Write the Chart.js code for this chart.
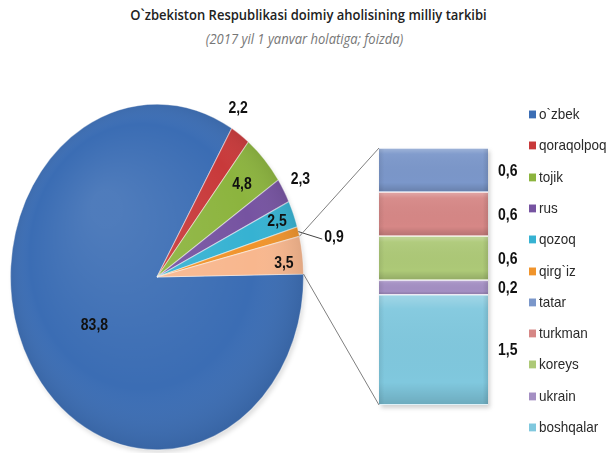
<!DOCTYPE html>
<html><head><meta charset="utf-8">
<script src="https://cdn.jsdelivr.net/npm/chart.js@4"></script>
<style>
html,body{margin:0;padding:0;background:#fff;}
#wrap{position:relative;width:609px;height:453px;overflow:hidden;background:#fff;}
canvas{position:absolute;left:0;top:0;}
.title{position:absolute;left:0;width:609px;text-align:center;font-family:"Open Sans",sans-serif;white-space:nowrap;}
#t1{top:5px;left:4px;font-size:13px;font-weight:600;color:#222;transform:scaleY(1.15);}
#t2{top:30px;font-size:13px;font-style:italic;color:#777;transform:scaleY(1.1);}
#legend{position:absolute;left:0;top:0;font-family:"Liberation Sans",Arial,sans-serif;font-size:13.5px;color:#2a2a2a;}
.li{position:absolute;white-space:nowrap;height:20px;line-height:20px;transform:scaleY(1.12);}
.sw{display:inline-block;width:7px;height:7px;margin-right:3px;vertical-align:middle;position:relative;top:-1px;}
</style></head>
<body><div id="wrap">
<div id="t1" class="title">O`zbekiston Respublikasi doimiy aholisining milliy tarkibi</div>
<div id="t2" class="title">(2017 yil 1 yanvar holatiga; foizda)</div>
<canvas id="pie" width="609" height="453"></canvas>
<canvas id="bar" width="609" height="453"></canvas>
<div id="legend"></div>
</div>
<script>
// ---- data ----
const pieCategories = ["o`zbek", "qoraqolpoq", "tojik", "rus", "qozoq", "qirg`iz", "boshqalar (jami)"];
const pieValues = [83.8, 2.2, 4.8, 2.3, 2.5, 0.9, 3.5];
const pieColors = ["#3b6db4", "#c8393a", "#8cb43e", "#7653a1", "#36b2d2", "#f0942c", "#f8b78e"];
const barCategories = ["tatar", "turkman", "koreys", "ukrain", "boshqalar"];
const barValues = [0.6, 0.6, 0.6, 0.2, 1.5];
const barColors = ["#7b97ca", "#d68786", "#adc977", "#a48fc3", "#80c8de"];

const fmt = v => v.toFixed(1).replace('.', ',');
const SY = 1.18;
const TEXT_SY = 1.17;
const LABEL_FONT = 'bold 14px "Liberation Sans", Arial, sans-serif';

function drawStretchedText(ctx, txt, x, y) {
  ctx.save();
  ctx.translate(x, y);
  ctx.scale(1, TEXT_SY);
  ctx.fillText(txt, 0, 0);
  ctx.restore();
}

const ellipsePlugin = {
  id: 'ellipse',
  beforeDatasetsDraw(chart, args, opts) {
    const a = chart.getDatasetMeta(0).data[0];
    const ctx = chart.ctx;
    ctx.save();
    ctx.translate(a.x, a.y); ctx.scale(1, opts.sy); ctx.translate(-a.x, -a.y);
    // soft shadow under the pie
    ctx.save();
    ctx.beginPath(); ctx.arc(a.x + 2, a.y + 3, a.outerRadius, 0, Math.PI * 2);
    ctx.fillStyle = 'rgba(0,0,0,0.12)'; ctx.filter = 'blur(2px)'; ctx.fill();
    ctx.restore();
  },
  afterDatasetsDraw(chart, args, opts) {
    const ctx = chart.ctx;
    const arcs = chart.getDatasetMeta(0).data;
    const a0 = arcs[0];
    const R = a0.outerRadius;
    const g = ctx.createRadialGradient(a0.x - R * 0.35, a0.y - R * 0.4, R * 0.1, a0.x, a0.y, R * 1.05);
    g.addColorStop(0, 'rgba(255,255,255,0.10)');
    g.addColorStop(0.7, 'rgba(255,255,255,0)');
    g.addColorStop(1, 'rgba(0,0,0,0.12)');
    ctx.beginPath(); ctx.arc(a0.x, a0.y, R, 0, Math.PI * 2); ctx.fillStyle = g; ctx.fill();
    ctx.restore();
    // labels
    ctx.save();
    ctx.font = LABEL_FONT;
    ctx.fillStyle = '#111';
    ctx.textAlign = 'center';
    ctx.textBaseline = 'middle';
    const ds = chart.data.datasets[0].data;
    arcs.forEach((arc, i) => {
      const [rho, dth] = opts.labels[i];
      const mid = (arc.startAngle + arc.endAngle) / 2;
      const ang = mid + dth * Math.PI / 180;
      const x = arc.x + rho * arc.outerRadius * Math.cos(ang);
      const y = arc.y + rho * arc.outerRadius * Math.sin(ang) * opts.sy;
      const txt = fmt(ds[i]);
      drawStretchedText(ctx, txt, x, y);
      if (rho > 1.2) {
        const w = ctx.measureText(txt).width;
        ctx.beginPath();
        ctx.moveTo(arc.x + arc.outerRadius * Math.cos(mid), arc.y + arc.outerRadius * Math.sin(mid) * opts.sy);
        ctx.lineTo(x - w / 2 - 2, y + 2);
        ctx.strokeStyle = '#444'; ctx.lineWidth = 1; ctx.stroke();
      }
    });
    ctx.restore();
  }
};

const pieChart = new Chart(document.getElementById('pie'), {
  type: 'pie',
  data: { labels: pieCategories, datasets: [{ data: pieValues, backgroundColor: pieColors, borderColor: 'rgba(255,255,255,0.45)', borderWidth: 1 }] },
  options: {
    responsive: false, animation: false, rotation: 89,
    layout: { padding: { left: 10, right: 305, top: 130, bottom: 29 } },
    plugins: {
      legend: { display: false }, tooltip: { enabled: false },
      ellipse: { sy: SY, labels: [[0.51, -3], [1.12, -5], [0.79, 0], [1.13, 0], [0.88, 0], [1.23, 4.4], [0.87, 2]] }
    }
  },
  plugins: [ellipsePlugin]
});

function barBounds(chart) {
  let top = Infinity, bottom = -Infinity, left = 0, right = 0;
  chart.data.datasets.forEach((ds, di) => {
    const el = chart.getDatasetMeta(di).data[0];
    top = Math.min(top, el.y, el.base); bottom = Math.max(bottom, el.y, el.base);
    left = el.x - el.width / 2; right = el.x + el.width / 2;
  });
  return { top, bottom, left, right };
}

const barPlugin = {
  id: 'barExtras',
  beforeDatasetsDraw(chart) {
    const ctx = chart.ctx;
    const b = barBounds(chart);
    ctx.save();
    ctx.fillStyle = 'rgba(0,0,0,0.18)';
    ctx.filter = 'blur(2px)';
    ctx.fillRect(b.left + 2, b.top + 3, b.right - b.left, b.bottom - b.top);
    ctx.restore();
  },
  afterDatasetsDraw(chart) {
    const ctx = chart.ctx;
    const b = barBounds(chart);
    ctx.save();
    // bevel shading per segment
    chart.data.datasets.forEach((ds, di) => {
      const el = chart.getDatasetMeta(di).data[0];
      const y1 = Math.min(el.y, el.base) + 1, y2 = Math.max(el.y, el.base) - 1;
      const x1 = el.x - el.width / 2, x2 = el.x + el.width / 2;
      const g = ctx.createLinearGradient(0, y1, 0, y2);
      g.addColorStop(0, 'rgba(255,255,255,0.25)');
      g.addColorStop(0.12, 'rgba(255,255,255,0.05)');
      g.addColorStop(0.8, 'rgba(0,0,0,0)');
      g.addColorStop(1, 'rgba(0,0,0,0.14)');
      ctx.fillStyle = g;
      ctx.fillRect(x1, y1, x2 - x1, y2 - y1);
      const gx = ctx.createLinearGradient(x1, 0, x2, 0);
      gx.addColorStop(0, 'rgba(0,0,0,0.08)');
      gx.addColorStop(0.05, 'rgba(0,0,0,0)');
      gx.addColorStop(0.95, 'rgba(0,0,0,0)');
      gx.addColorStop(1, 'rgba(0,0,0,0.10)');
      ctx.fillStyle = gx;
      ctx.fillRect(x1, y1, x2 - x1, y2 - y1);
    });
    ctx.font = LABEL_FONT; ctx.fillStyle = '#111';
    ctx.textAlign = 'left'; ctx.textBaseline = 'middle';
    chart.data.datasets.forEach((ds, di) => {
      const el = chart.getDatasetMeta(di).data[0];
      const y1 = Math.min(el.y, el.base), y2 = Math.max(el.y, el.base);
      drawStretchedText(ctx, fmt(ds.data[0]), el.x + el.width / 2 + 10, (y1 + y2) / 2 + 1);
    });
    // connector lines to the aggregated pie slice
    const arcs = pieChart.getDatasetMeta(0).data;
    const other = arcs[arcs.length - 1];
    const p = ang => [other.x + other.outerRadius * Math.cos(ang), other.y + other.outerRadius * Math.sin(ang) * SY];
    const s = p(other.startAngle), e = p(other.endAngle);
    ctx.strokeStyle = '#7f7f7f'; ctx.lineWidth = 1;
    ctx.beginPath(); ctx.moveTo(s[0], s[1]); ctx.lineTo(b.left, b.top); ctx.stroke();
    ctx.beginPath(); ctx.moveTo(e[0], e[1]); ctx.lineTo(b.left, b.bottom); ctx.stroke();
    ctx.restore();
  }
};

const barDatasets = barCategories.map((c, i) => ({
  label: c, data: [barValues[i]], backgroundColor: barColors[i],
  borderColor: '#ffffff', borderWidth: { top: 1, bottom: 1, left: 0, right: 0 }, borderSkipped: false,
  barPercentage: 1, categoryPercentage: 1
})).reverse();

new Chart(document.getElementById('bar'), {
  type: 'bar',
  data: { labels: ['boshqalar (jami)'], datasets: barDatasets },
  options: {
    responsive: false, animation: false,
    layout: { padding: { left: 379, right: 121, top: 148, bottom: 48 } },
    scales: { x: { display: false, stacked: true }, y: { display: false, stacked: true, min: 0, max: pieValues[6] } },
    plugins: { legend: { display: false }, tooltip: { enabled: false } }
  },
  plugins: [barPlugin]
});

// legend
const legendItems = pieCategories.slice(0, 6).map((c, i) => [c, pieColors[i]])
  .concat(barCategories.map((c, i) => [c, barColors[i]]));
const lg = document.getElementById('legend');
legendItems.forEach(([name, col], i) => {
  const d = document.createElement('div');
  d.className = 'li';
  d.style.left = '529px';
  d.style.top = (105 + i * 31.3) + 'px';
  d.innerHTML = '<span class="sw" style="background:' + col + '"></span>' + name;
  lg.appendChild(d);
});
</script>
</body></html>
